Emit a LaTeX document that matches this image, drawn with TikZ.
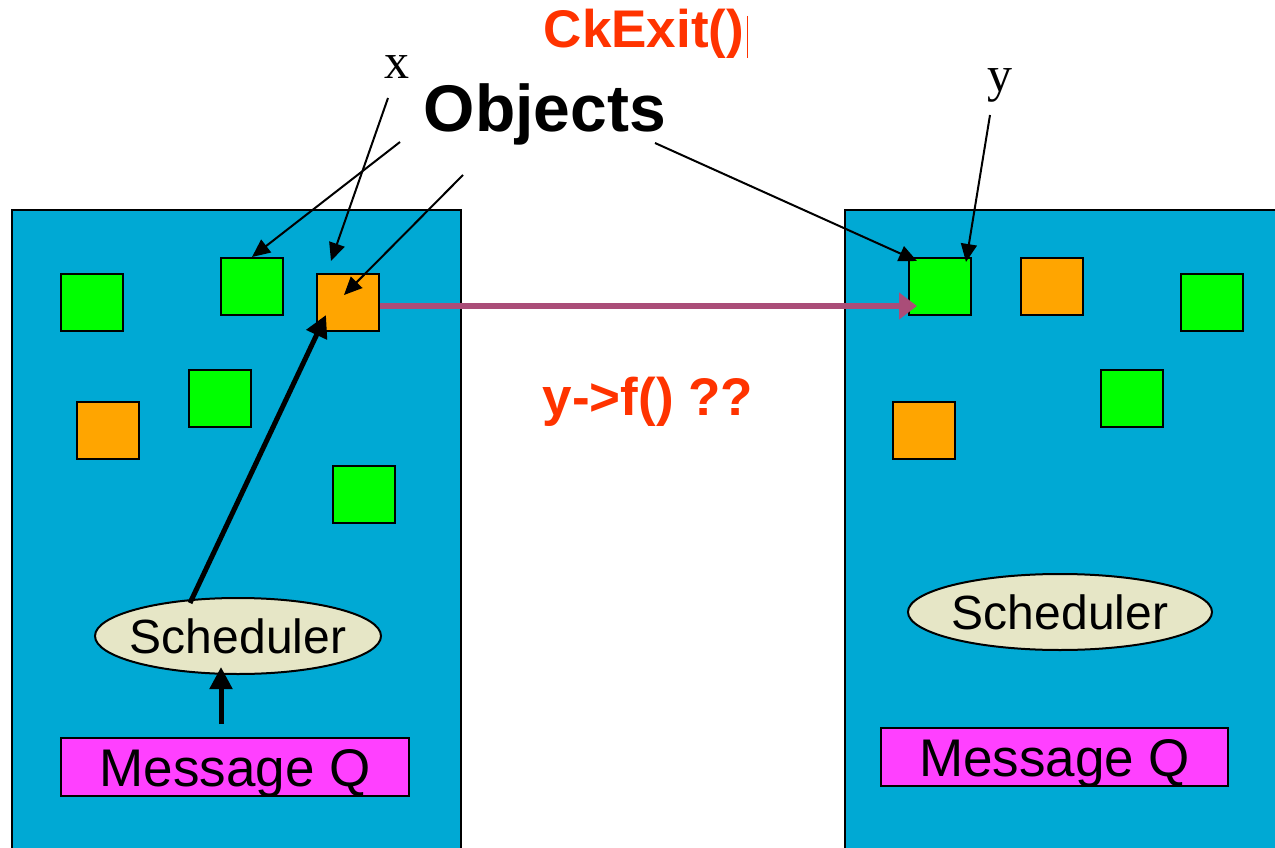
\documentclass[tikz,border=0pt]{standalone}
\usepackage{fontspec}
\setmainfont{Liberation Sans}
\newfontfamily\serifx{Liberation Serif}
\usetikzlibrary{arrows.meta,shapes.geometric}
\definecolor{boxblue}{RGB}{0,169,212}
\definecolor{objgreen}{RGB}{0,255,0}
\definecolor{objorange}{RGB}{255,165,0}
\definecolor{schedfill}{RGB}{230,230,198}
\definecolor{qmag}{RGB}{255,64,255}
\definecolor{txtred}{RGB}{255,51,0}
\definecolor{migr}{RGB}{170,77,120}
\tikzset{
  pe/.style={draw=black, line width=2pt, fill=boxblue},
  obj/.style={draw=black, line width=2pt, minimum width=62pt, minimum height=57pt, inner sep=0pt},
  gobj/.style={obj, fill=objgreen},
  oobj/.style={obj, fill=objorange},
  sched/.style={ellipse, draw=black, line width=2pt, fill=schedfill, inner sep=0pt},
  schedtxt/.style={inner sep=0pt, font=\fontsize{48}{52}\selectfont},
  msgq/.style={draw=black, line width=2pt, fill=qmag, inner sep=0pt, font=\fontsize{53}{56}\selectfont},
  ptr/.style={draw=black, line width=2pt, -{Triangle[length=18pt,width=16pt]}},
  thick arrow/.style={draw=black, line width=5pt, -{Triangle[length=22pt,width=22pt]}},
  migrate/.style={draw=migr, line width=6pt, -{Triangle[length=18pt,width=26pt]}},
  redtxt/.style={text=txtred, font=\bfseries\fontsize{53}{56}\selectfont, inner sep=0pt},
}
\begin{document}
\begin{tikzpicture}[x=1pt,y=-1pt]
\useasboundingbox (0,0) rectangle (1275,848);
\clip (0,0) rectangle (1275,848);
\fill[white] (0,0) rectangle (1275,848);
% processors
\path[pe] (12,210) rectangle (461,870);
\path[pe] (845,210) rectangle (1290,870);
% left objects
\node[gobj] (l1) at (92,302.5) {};
\node[gobj] (l2) at (252,286.5) {};
\node[oobj] (l3) at (348,302.5) {};
\node[gobj] (l4) at (220,398.5) {};
\node[oobj] (l5) at (108,430.5) {};
\node[gobj] (l6) at (364,494.5) {};
% right objects
\node[gobj] (r1) at (940,286.5) {};
\node[oobj] (r2) at (1052,286.5) {};
\node[gobj] (r3) at (1212,302.5) {};
\node[gobj] (r4) at (1132,398.5) {};
\node[oobj] (r5) at (924,430.5) {};
% schedulers and queues
\node[sched, minimum width=286pt, minimum height=76pt] (ls) at (238,636) {};
\node[schedtxt] (lstxt) at (ls.center) {Scheduler};
\node[sched, minimum width=304pt, minimum height=76pt] (rs) at (1060,612) {};
\node[schedtxt] (rstxt) at (rs.center) {Scheduler};
\node[msgq, minimum width=348pt, minimum height=58pt] (lq) at (235,767) {};
\node[msgq, fill=none, draw=none] (lqtxt) at (235,773) {Message Q};
\node[msgq, minimum width=347pt, minimum height=58pt] (rq) at (1054.5,757) {};
\node[msgq, fill=none, draw=none] (rqtxt) at (1054.5,763) {Message Q};
% labels
\node[redtxt] (ckexit) at (644,34) {CkExit()};
\draw[txtred, line width=0.8pt] (747,16) -- (747,58);
\node[font=\bfseries\fontsize{66}{70}\selectfont, inner sep=0pt] (objects) at (545,114) {Objects};
\node[font=\serifx\fontsize{50}{52}\selectfont, inner sep=0pt] (xlab) at (397,67) {x};
\node[font=\serifx\fontsize{50}{52}\selectfont, inner sep=0pt] (ylab) at (1000,85) {y};
\node[redtxt] (yf) at (648,402) {y->f() ??};
% connector end points
\coordinate (o1s) at (400,142);
\coordinate (o2s) at (463,175);
\coordinate (o3s) at (655,143);
\coordinate (xs) at (388,98);
\coordinate (xe) at (331,261);
\coordinate (ys) at (990,115);
\coordinate (ye) at (966,262);
\coordinate (l3in) at (344,295);
\coordinate (r1in) at (917,261);
\coordinate (r1mid) at (917,306);
\coordinate (lss) at (190,603);
\coordinate (l3bl) at (326,315);
\coordinate (lqs) at (221,724);
\coordinate (lse) at (221,667);
% pointers
\draw[ptr] (o1s) -- (l2.north);
\draw[ptr] (xs) -- (xe);
\draw[ptr] (o2s) -- (l3in);
\draw[ptr] (o3s) -- (r1in);
\draw[ptr] (ys) -- (ye);
% migration arrow
\draw[migrate] (l3.east |- r1mid) -- (r1mid);
% scheduler arrows
\draw[thick arrow] (lss) -- (l3bl);
\draw[thick arrow] (lqs) -- (lse);
\end{tikzpicture}
\end{document}
